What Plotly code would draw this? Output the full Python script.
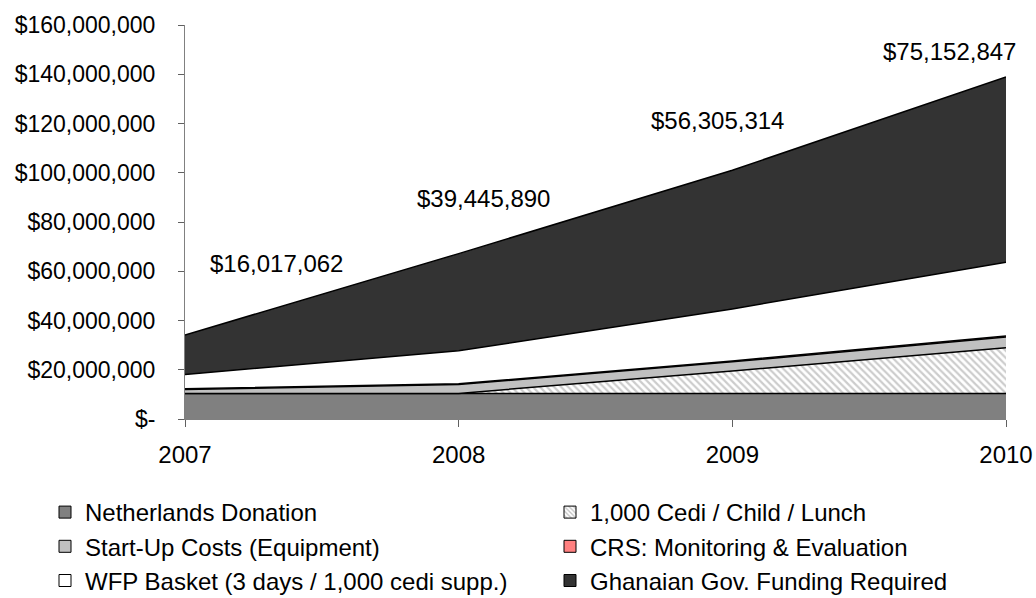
import plotly.graph_objects as go

years = [2007, 2008, 2009, 2010]
netherlands = [10_400_000, 10_400_000, 10_400_000, 10_400_000]
cedi_lunch = [0, 0, 9_100_000, 18_500_000]
startup = [1_600_000, 3_600_000, 3_700_000, 4_400_000]
crs_me = [300_000, 300_000, 400_000, 400_000]
wfp_basket = [5_800_000, 13_400_000, 21_100_000, 30_000_000]
ghana_gov = [16_017_062, 39_445_890, 56_305_314, 75_152_847]

y_tickvals = [0, 20e6, 40e6, 60e6, 80e6, 100e6, 120e6, 140e6, 160e6]
y_ticktext = ["$-", "$20,000,000", "$40,000,000", "$60,000,000", "$80,000,000",
              "$100,000,000", "$120,000,000", "$140,000,000", "$160,000,000"]

# label anchor positions (year, value) for the Ghana totals
label_x = [2007.336, 2008.089, 2008.947, 2009.795]
label_y = [63.3e6, 89.7e6, 121.3e6, 149.3e6]

FONT = "Liberation Sans, Arial, sans-serif"
FS = 24

series = [
    ("Netherlands Donation", netherlands, "#808080", None, "legend", 0),
    ("1,000 Cedi / Child / Lunch", cedi_lunch, "#ffffff", "\\", "legend2", 0),
    ("Start-Up Costs (Equipment)", startup, "#c0c0c0", None, "legend", 1),
    ("CRS: Monitoring & Evaluation", crs_me, "#ff8080", None, "legend2", 1),
    ("WFP Basket (3 days / 1,000 cedi supp.)", wfp_basket, "#ffffff", None, "legend", 2),
    ("Ghanaian Gov. Funding Required", ghana_gov, "#333333", None, "legend2", 2),
]

fig = go.Figure()

for name, vals, color, pat, lg, rank in series:
    kw = {}
    if pat:
        kw["fillpattern"] = dict(shape=pat, fgcolor="#9a9a9a", bgcolor="#ffffff",
                                 size=5, solidity=0.45)
    fig.add_trace(go.Scatter(
        x=years, y=vals, name=name, stackgroup="one", mode="lines",
        line=dict(color="black", width=1.5), fillcolor=color,
        showlegend=False, hoverinfo="skip", **kw))

# legend entries (square icons) on a hidden helper axis
for name, vals, color, pat, lg, rank in series:
    mk = dict(color=color, line=dict(color="black", width=1))
    if pat:
        mk["pattern"] = dict(shape=pat, fgcolor="#808080", bgcolor="#ffffff",
                             size=4, solidity=0.4)
    fig.add_trace(go.Bar(x=[0], y=[0], name=name, marker=mk,
                         xaxis="x2", yaxis="y2",
                         legend=lg, legendgroup=name, legendrank=rank,
                         showlegend=True, hoverinfo="skip"))

for xv, yv, val in zip(label_x, label_y, ghana_gov):
    fig.add_annotation(x=xv, y=yv, text=f"${val:,.0f}", showarrow=False,
                       font=dict(size=FS, color="black", family=FONT),
                       xanchor="center", yanchor="middle")

leg_common = dict(xref="container", yref="container", xanchor="left", yanchor="top",
                  tracegroupgap=0, font=dict(size=FS, family=FONT),
                  bgcolor="rgba(0,0,0,0)")
fig.update_layout(
    width=1036, height=598,
    margin=dict(l=185, r=30, t=25, b=179, autoexpand=False),
    plot_bgcolor="rgba(0,0,0,0)", paper_bgcolor="white",
    font=dict(family=FONT, size=FS, color="black"),
    legend=dict(x=45 / 1036, y=(598 - 490) / 598, **leg_common),
    legend2=dict(x=550 / 1036, y=(598 - 490) / 598, **leg_common),
    xaxis=dict(range=[2007, 2010], tickvals=years, ticktext=[str(y) for y in years],
               showgrid=False, zeroline=False, showline=True, linecolor="#808080",
               linewidth=1, ticks="outside", ticklen=7, tickcolor="#606060",
               tickfont=dict(size=FS), ticklabelstandoff=7, automargin=False),
    yaxis=dict(range=[0, 160e6], tickvals=y_tickvals, ticktext=y_ticktext,
               showgrid=False, zeroline=False, showline=True, linecolor="#808080",
               linewidth=1, ticks="outside", ticklen=6, tickcolor="#606060",
               tickfont=dict(size=23), ticklabelstandoff=18, automargin=False),
    xaxis2=dict(domain=[0, 0.01], anchor="y2", visible=False, range=[1, 2]),
    yaxis2=dict(domain=[0, 0.01], anchor="x2", visible=False, range=[1, 2]),
)

fig.write_html("out.html", config={"displayModeBar": False},
               post_script="document.body.style.margin='0px';document.body.style.overflow='hidden';")
